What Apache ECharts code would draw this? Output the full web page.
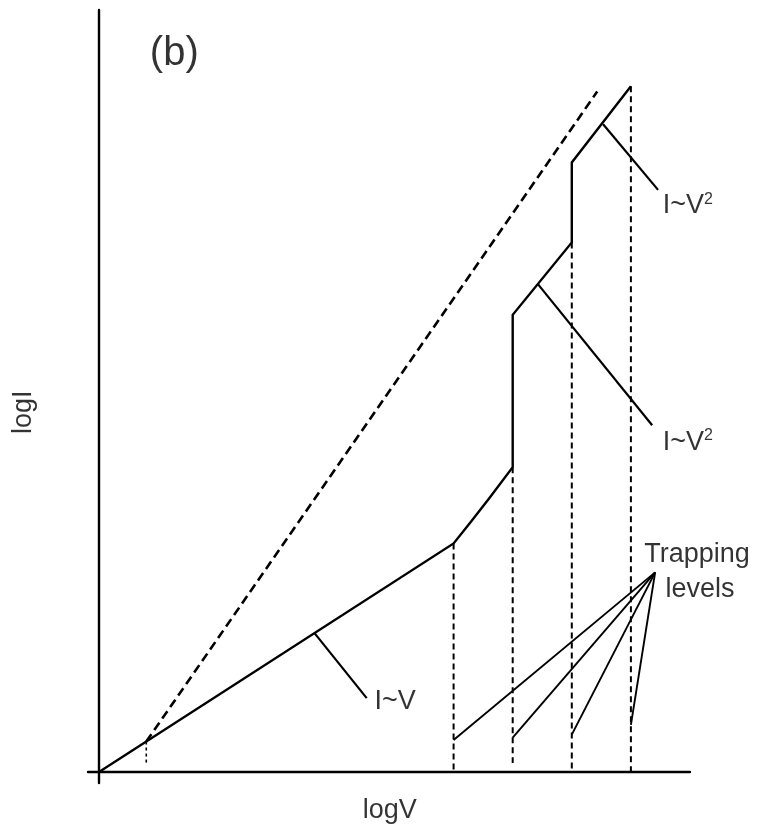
<!DOCTYPE html>
<html>
<head>
<meta charset="utf-8">
<script src="https://cdn.jsdelivr.net/npm/echarts@6/dist/echarts.min.js"></script>
<style>
html,body{margin:0;padding:0;background:#fff;}
#chart{width:761px;height:837px;}
</style>
</head>
<body>
<div id="chart"></div>
<script>
// Schematic log I - log V characteristic (arbitrary units)
const mainV = [0, 60, 63, 66, 70, 70, 80, 80, 90];
const mainI = [0, 30, 32.9, 35.9, 40, 60, 69.5, 80, 90];
const trapFilledV = [8, 84.3];
const trapFilledI = [4, 89.3];
const onsetV = [8, 8];
const onsetI = [4, 0.9];
const levelV = [60, 70, 80, 90];
const levelTopI = [30, 40, 69.5, 90];
const levelBottomI = [0, 1.2, 0, 0];
const trapPointerV = [94.1, 94.1, 94.1, 94.1];
const trapPointerI = [26.2, 26.2, 26.2, 26.2];
const trapEndV = [60, 70, 80, 90];
const trapEndI = [4.2, 4.5, 4.9, 6.2];
const leaderStartV = [36.5, 85.3, 74.3];
const leaderStartI = [18.2, 85, 64];
const leaderEndV = [45.3, 94.6, 93.6];
const leaderEndI = [9.7, 76.4, 45.5];
const leaderTexts = ['I~V', 'I~V²', 'I~V²'];
const leaderTextV = [46.6, 95.4, 95.4];
const leaderTextI = [9.3, 74.3, 43.3];
const trapTexts = ['Trapping', 'levels'];
const trapTextV = [101.2, 101.7];
const trapTextI = [28.5, 24.0];
const panelText = '(b)';
const panelV = 8.6, panelI = 94.2;
const xName = 'logV', xNameV = 49.2, xNameI = -5.1;
const yName = 'logI', yNameV = -12.7, yNameI = 47.2;

const ink = '#000';
const FONT = 'Liberation Sans, Arial, sans-serif';
const FS = 27;

function pairs(xs, ys){ return xs.map((x,i)=>[x, ys[i]]); }

const series = [];
series.push({type:'line', data: pairs(mainV, mainI), symbol:'none', clip:false,
  lineStyle:{color:ink, width:2.4, join:'miter'}, silent:true});
series.push({type:'line', data: pairs(trapFilledV, trapFilledI), symbol:'none', clip:false,
  lineStyle:{color:ink, width:2.6, type:[9,5]}, silent:true});
series.push({type:'line', data: pairs(onsetV, onsetI), symbol:'none', clip:false,
  lineStyle:{color:ink, width:1.6, type:[3,3]}, silent:true});
levelV.forEach((v,i)=>{
  series.push({type:'line', data:[[v, levelTopI[i]],[v, levelBottomI[i]]], symbol:'none', clip:false,
    lineStyle:{color:ink, width:2, type:[6,4]}, silent:true});
});
trapEndV.forEach((v,i)=>{
  series.push({type:'line', data:[[trapPointerV[i], trapPointerI[i]],[v, trapEndI[i]]], symbol:'none', clip:false,
    lineStyle:{color:ink, width:1.9}, silent:true});
});
leaderStartV.forEach((v,i)=>{
  series.push({type:'line', data:[[v, leaderStartI[i]],[leaderEndV[i], leaderEndI[i]]], symbol:'none', clip:false,
    lineStyle:{color:ink, width:2.2}, silent:true});
});

function rich(){
  return {
    a:{fontSize:FS, fontFamily:FONT, color:'#000', textBorderWidth:0},
    s:{fontSize:16, fontFamily:FONT, color:'#000', padding:[0,0,12,0], textBorderWidth:0}
  };
}
function fmt(t){
  if (t.endsWith('²')) return '{a|' + t.slice(0,-1) + '}{s|2}';
  return '{a|' + t + '}';
}

const labelData = [];
leaderTexts.forEach((t,i)=>labelData.push({value:[leaderTextV[i], leaderTextI[i]], name:t,
  label:{align:'left'}}));
trapTexts.forEach((t,i)=>labelData.push({value:[trapTextV[i], trapTextI[i]], name:t,
  label:{align:'center'}}));
labelData.push({value:[xNameV, xNameI], name:xName, label:{align:'center'}});
labelData.push({value:[yNameV, yNameI], name:yName, label:{align:'center', rotate:90}});
labelData.push({value:[panelV, panelI], name:panelText, label:{align:'left', rich:{a:{fontSize:40, fontFamily:FONT, color:'#000'}}}});

series.push({type:'scatter', data:labelData, symbolSize:0, clip:false, silent:true,
  itemStyle:{color:'#000'},
  label:{show:true, position:[0,0], verticalAlign:'middle', color:'#000', textBorderWidth:0,
    formatter:p=>fmt(p.name), rich:rich()}});

const chart = echarts.init(document.getElementById('chart'), null, {renderer:'canvas'});
chart.setOption({
  animation:false,
  backgroundColor:'#fff',
  grid:{left:88, right:71, top:10, bottom:54},
  xAxis:{type:'value', min:-1.86, max:100, axisLine:{onZero:true, lineStyle:{color:ink, width:2.4}},
    axisTick:{show:false}, axisLabel:{show:false}, splitLine:{show:false}},
  yAxis:{type:'value', min:-1.44, max:100, axisLine:{show:true, onZero:true, lineStyle:{color:ink, width:2.4}},
    axisTick:{show:false}, axisLabel:{show:false}, splitLine:{show:false}},
  series:series
});
</script>
</body>
</html>
